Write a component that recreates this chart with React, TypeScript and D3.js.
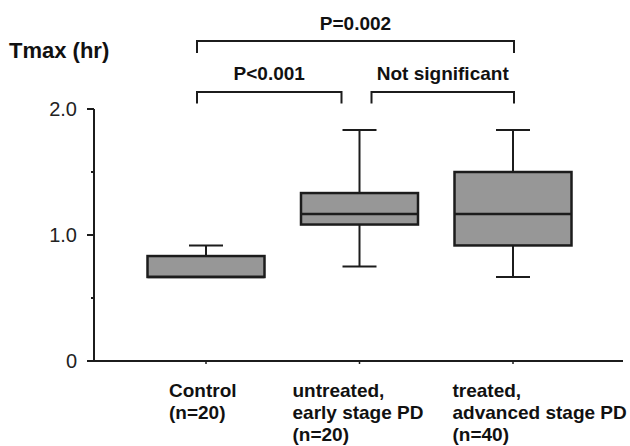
import React from "react";
import * as d3 from "d3";

const categories = ["Control", "Untreated", "Treated"];
const categoryLabels = [
  ["Control", "(n=20)"],
  ["untreated,", "early stage PD", "(n=20)"],
  ["treated,", "advanced stage PD", "(n=40)"],
];
const minValues = [0.667, 0.75, 0.667];
const q1Values = [0.667, 1.083, 0.917];
const medianValues = [0.667, 1.167, 1.167];
const q3Values = [0.833, 1.333, 1.5];
const maxValues = [0.917, 1.833, 1.833];

const majorTicks = [0, 1, 2];
const majorTickLabels = ["0", "1.0", "2.0"];
const minorTicks = [0.5, 1.5];

const comparisons = [
  { from: "Control", to: "Treated", label: "P=0.002", level: 0 },
  { from: "Control", to: "Untreated", label: "P<0.001", level: 1 },
  { from: "Untreated", to: "Treated", label: "Not significant", level: 1 },
];

const W = 630;
const H = 446;
const axisX = 94;
const axisRight = 623;
const ink = "#1c1c1c";
const FONT = "'Liberation Sans', Arial, sans-serif";

export default function App() {
  const y = d3.scaleLinear().domain([0, 2]).range([361, 109]);
  const x = d3.scalePoint<string>().domain(categories).range([206, 513]);
  const boxW = 117;
  const capW = 34;

  // bracket offsets relative to group centres (layout only)
  const leftOff: Record<string, number> = { Control: -9, Untreated: 12, Treated: 1 };
  const rightOff: Record<string, number> = { Control: -9, Untreated: -18, Treated: 1 };
  const levelY = [41, 92];
  const tipLen = [12, 11.5];
  const labelY = [30, 80];
  const labelOff = [-37, -67, -60.5];

  return (
    <svg
      width={W}
      height={H}
      style={{ position: "absolute", left: 0, top: 0, background: "#fff" }}
      fontFamily={FONT}
    >
      {/* y-axis */}
      <line x1={axisX} x2={axisX} y1={y(2)} y2={y(0)} stroke={ink} strokeWidth={2} />
      {majorTicks.map((t, i) => (
        <g key={"mt" + i}>
          <line x1={axisX - 7} x2={axisX} y1={y(t)} y2={y(t)} stroke={ink} strokeWidth={2} />
          <text x={77} y={y(t)} dy="0.36em" textAnchor="end" fontSize={20} fill="#222">
            {majorTickLabels[i]}
          </text>
        </g>
      ))}
      {minorTicks.map((t, i) => (
        <line key={"mn" + i} x1={axisX - 3} x2={axisX} y1={y(t)} y2={y(t)} stroke={ink} strokeWidth={2} />
      ))}
      {/* x-axis */}
      <line x1={axisX - 7} x2={axisRight} y1={y(0)} y2={y(0)} stroke={ink} strokeWidth={2} />
      {categories.map((c) => (
        <line key={"xt" + c} x1={x(c)!} x2={x(c)!} y1={y(0)} y2={y(0) + 3} stroke={ink} strokeWidth={1.5} />
      ))}

      {/* y title */}
      <text x={9} y={58} fontSize={22} fontWeight="bold" fill="#111">
        Tmax (hr)
      </text>

      {/* boxes */}
      {categories.map((c, i) => {
        const cx = x(c)!;
        return (
          <g key={"box" + c}>
            {maxValues[i] > q3Values[i] && (
              <>
                <line x1={cx} x2={cx} y1={y(maxValues[i])} y2={y(q3Values[i])} stroke={ink} strokeWidth={2} />
                <line
                  x1={cx - capW / 2}
                  x2={cx + capW / 2}
                  y1={y(maxValues[i])}
                  y2={y(maxValues[i])}
                  stroke={ink}
                  strokeWidth={2}
                />
              </>
            )}
            {minValues[i] < q1Values[i] && (
              <>
                <line x1={cx} x2={cx} y1={y(q1Values[i])} y2={y(minValues[i])} stroke={ink} strokeWidth={2} />
                <line
                  x1={cx - capW / 2}
                  x2={cx + capW / 2}
                  y1={y(minValues[i])}
                  y2={y(minValues[i])}
                  stroke={ink}
                  strokeWidth={2}
                />
              </>
            )}
            <rect
              x={cx - boxW / 2}
              y={y(q3Values[i])}
              width={boxW}
              height={y(q1Values[i]) - y(q3Values[i])}
              fill="#979797"
              stroke={ink}
              strokeWidth={2.5}
            />
            <line
              x1={cx - boxW / 2}
              x2={cx + boxW / 2}
              y1={y(medianValues[i])}
              y2={y(medianValues[i])}
              stroke={ink}
              strokeWidth={2.5}
            />
          </g>
        );
      })}

      {/* comparison brackets */}
      {comparisons.map((cmp, i) => {
        const x1 = x(cmp.from)! + leftOff[cmp.from];
        const x2 = x(cmp.to)! + rightOff[cmp.to];
        const yy = levelY[cmp.level];
        const tl = tipLen[cmp.level];
        return (
          <g key={"cmp" + i}>
            <path
              d={`M${x1},${yy + tl}V${yy}H${x2}V${yy + tl}`}
              fill="none"
              stroke={ink}
              strokeWidth={2}
            />
            <text
              x={(x1 + x2) / 2}
              y={labelY[cmp.level]}
              textAnchor="middle"
              fontSize={19}
              fontWeight="bold"
              fill="#111"
            >
              {cmp.label}
            </text>
          </g>
        );
      })}

      {/* category labels */}
      {categories.map((c, i) => (
        <text key={"lbl" + c} fontSize={19} fontWeight="bold" fill="#111">
          {categoryLabels[i].map((line, j) => (
            <tspan key={j} x={x(c)! + labelOff[i]} y={397 + j * 22}>
              {line}
            </tspan>
          ))}
        </text>
      ))}
    </svg>
  );
}
